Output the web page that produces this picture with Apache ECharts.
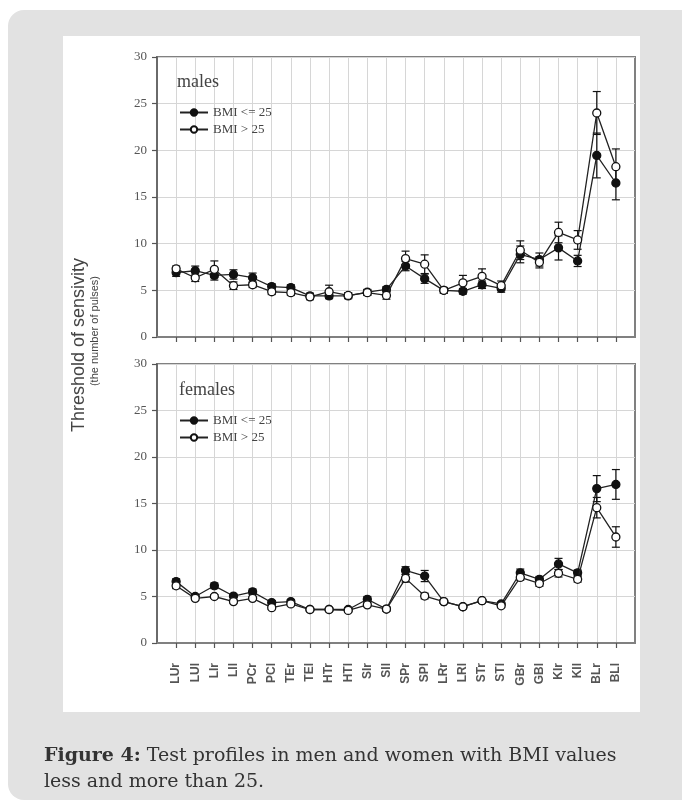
<!DOCTYPE html>
<html>
<head>
<meta charset="utf-8">
<script src="https://cdn.jsdelivr.net/npm/echarts@6/dist/echarts.min.js"></script>
<style>
  html, body { margin: 0; padding: 0; background: #ffffff; }
  #chart { width: 682px; height: 802px; }
</style>
</head>
<body>
<div id="chart"></div>
<script>
// Test points (right / left side of the body)
const categories = ['LUr','LUl','LIr','LIl','PCr','PCl','TEr','TEl','HTr','HTl','SIr','SIl',
                    'SPr','SPl','LRr','LRl','STr','STl','GBr','GBl','KIr','KIl','BLr','BLl'];

// Males: mean threshold and standard error
const maleLow     = [6.9, 7.1, 6.6, 6.7, 6.35, 5.4, 5.3, 4.4, 4.4, 4.4, 4.8, 5.1, 7.6, 6.25, 5.0, 4.9, 5.6, 5.2, 8.85, 8.3, 9.55, 8.15, 19.45, 16.5];
const maleLowErr  = [0.4, 0.5, 0.5, 0.5, 0.5, 0.3, 0.3, 0.3, 0.3, 0.3, 0.3, 0.3, 0.5, 0.5, 0.3, 0.3, 0.4, 0.4, 0.9, 0.7, 1.3, 0.6, 2.4, 1.8];
const maleHigh    = [7.3, 6.35, 7.25, 5.5, 5.6, 4.85, 4.75, 4.3, 4.85, 4.45, 4.75, 4.45, 8.4, 7.8, 5.0, 5.8, 6.5, 5.5, 9.3, 8.0, 11.2, 10.4, 24.0, 18.25];
const maleHighErr = [0.3, 0.4, 0.9, 0.4, 0.3, 0.3, 0.3, 0.3, 0.7, 0.3, 0.3, 0.4, 0.8, 1.0, 0.3, 0.8, 0.8, 0.5, 1.0, 0.6, 1.1, 1.0, 2.3, 1.9];

// Females: mean threshold and standard error
const femaleLow     = [6.6, 5.0, 6.15, 5.05, 5.5, 4.35, 4.45, 3.6, 3.6, 3.6, 4.7, 3.65, 7.8, 7.2, 4.45, 3.9, 4.55, 4.2, 7.55, 6.85, 8.5, 7.55, 16.6, 17.05];
const femaleLowErr  = [0.3, 0.2, 0.3, 0.2, 0.3, 0.2, 0.2, 0.2, 0.2, 0.2, 0.3, 0.2, 0.4, 0.6, 0.2, 0.2, 0.2, 0.2, 0.4, 0.3, 0.6, 0.3, 1.4, 1.6];
const femaleHigh    = [6.15, 4.8, 5.0, 4.45, 4.8, 3.8, 4.2, 3.6, 3.6, 3.5, 4.1, 3.65, 6.95, 5.05, 4.45, 3.9, 4.55, 4.0, 7.05, 6.4, 7.5, 6.85, 14.55, 11.4];
const femaleHighErr = [0.3, 0.2, 0.2, 0.2, 0.2, 0.2, 0.2, 0.2, 0.2, 0.2, 0.2, 0.2, 0.4, 0.3, 0.2, 0.2, 0.2, 0.2, 0.3, 0.3, 0.4, 0.3, 1.1, 1.1];

const seriesNames = ['BMI <= 25', 'BMI > 25'];
const panelTitles = ['males', 'females'];

const chart = echarts.init(document.getElementById('chart'), null, { renderer: 'canvas' });

const AXIS = '#808080';
const GRID = '#d6d6d6';
const INK = '#111111';
const SERIF = '"Liberation Serif", "Times New Roman", serif';
const CAPTION_SERIF = '"DejaVu Serif", Georgia, serif';
const SANS = '"Liberation Sans", Arial, sans-serif';

function points(vals) {
  return vals.map((v, i) => [i + 1, v]);
}
function errPoints(vals, errs) {
  return vals.map((v, i) => [i + 1, v - errs[i], v + errs[i]]);
}

// vertical error bar with caps
function renderErr(params, api) {
  const x = api.value(0);
  const lo = api.coord([x, api.value(1)]);
  const hi = api.coord([x, api.value(2)]);
  const cap = 4;
  const style = { stroke: INK, lineWidth: 1.2 };
  return {
    type: 'group',
    children: [
      { type: 'line', shape: { x1: lo[0], y1: lo[1], x2: hi[0], y2: hi[1] }, style },
      { type: 'line', shape: { x1: hi[0] - cap, y1: hi[1], x2: hi[0] + cap, y2: hi[1] }, style },
      { type: 'line', shape: { x1: lo[0] - cap, y1: lo[1], x2: lo[0] + cap, y2: lo[1] }, style }
    ]
  };
}

const grids = [
  { left: 157, top: 57, width: 478, height: 280 },
  { left: 157, top: 364, width: 478, height: 279 }
];

function xAxisFor(idx) {
  return {
    type: 'value', gridIndex: idx, min: 0, max: 25, interval: 1,
    axisLine: { show: true, lineStyle: { color: AXIS, width: 2 } },
    axisTick: { show: true, length: 5, lineStyle: { color: '#555', width: 1.2 },
      customValues: categories.map((c, i) => i + 1) },
    splitLine: { show: true, lineStyle: { color: GRID, width: 1 } },
    axisLabel: {
      show: idx === 1,
      rotate: 90,
      interval: 0,
      margin: 20,
      color: '#555',
      fontFamily: SANS,
      fontWeight: 'bold',
      fontSize: 12,
      formatter: v => (v >= 1 && v <= categories.length) ? categories[v - 1] : ''
    }
  };
}

function yAxisFor(idx) {
  return {
    type: 'value', gridIndex: idx, min: 0, max: 30, interval: 5,
    axisLine: { show: true, lineStyle: { color: '#6a6a6a', width: 2 } },
    axisTick: { show: true, length: 5, lineStyle: { color: '#555', width: 1.2 } },
    splitLine: { show: true, lineStyle: { color: GRID, width: 1 } },
    axisLabel: { color: '#555', fontFamily: SERIF, fontSize: 13, margin: 10 }
  };
}

function lineSeries(name, idx, vals, filled) {
  return {
    name, type: 'line', xAxisIndex: idx, yAxisIndex: idx,
    data: points(vals),
    symbol: 'circle', symbolSize: 8,
    lineStyle: { color: '#222', width: 1.3 },
    itemStyle: { color: filled ? INK : '#ffffff', borderColor: INK, borderWidth: 1.3 },
    z: filled ? 4 : 5,
    animation: false
  };
}

function errSeries(idx, vals, errs) {
  return {
    type: 'custom', xAxisIndex: idx, yAxisIndex: idx,
    renderItem: renderErr,
    data: errPoints(vals, errs),
    encode: { x: 0, y: [1, 2] },
    z: 3, silent: true, animation: false
  };
}

const legendCommon = {
  orient: 'vertical',
  itemWidth: 28, itemHeight: 8, itemGap: 4,
  textStyle: { fontFamily: SERIF, fontSize: 13, color: '#444' },
  data: seriesNames.map(n => ({ name: n }))
};

const option = {
  backgroundColor: '#ffffff',
  animation: false,
  graphic: [
    { type: 'rect', left: 8, top: 10, shape: { width: 700, height: 790, r: 16 },
      style: { fill: '#e2e2e2' }, z: -10 },
    { type: 'rect', left: 63, top: 36, shape: { width: 577, height: 676 },
      style: { fill: '#ffffff' }, z: -9 },
    { type: 'text', left: 70, top: 258, rotation: Math.PI / 2, z: 10,
      style: { text: 'Threshold of sensivity', font: '18px ' + SANS, fill: '#444' } },
    { type: 'text', left: 89, top: 276, rotation: Math.PI / 2, z: 10,
      style: { text: '(the number of pulses)', font: '11px ' + SANS, fill: '#444' } },
    { type: 'text', left: 44, top: 743, z: 10,
      style: {
        text: '{b|Figure 4:} Test profiles in men and women with BMI values\nless and more than 25.',
        font: '19px ' + CAPTION_SERIF, fill: '#333', lineHeight: 26,
        rich: { b: { fontWeight: 'bold', fontFamily: CAPTION_SERIF, fontSize: 19, fill: '#333' } }
      } }
  ],
  title: [
    { text: panelTitles[0], left: 172, top: 68,
      textStyle: { fontFamily: SERIF, fontSize: 18, fontWeight: 'normal', color: '#444' } },
    { text: panelTitles[1], left: 174, top: 376,
      textStyle: { fontFamily: SERIF, fontSize: 18, fontWeight: 'normal', color: '#444' } }
  ],
  legend: [
    Object.assign({ left: 174, top: 101 }, legendCommon),
    Object.assign({ left: 174, top: 409 }, legendCommon)
  ],
  grid: grids.map(g => Object.assign({ show: true, borderColor: AXIS, borderWidth: 2, backgroundColor: 'transparent' }, g)),
  xAxis: [xAxisFor(0), xAxisFor(1)],
  yAxis: [yAxisFor(0), yAxisFor(1)],
  series: [
    errSeries(0, maleLow, maleLowErr),
    errSeries(0, maleHigh, maleHighErr),
    lineSeries(seriesNames[0], 0, maleLow, true),
    lineSeries(seriesNames[1], 0, maleHigh, false),
    errSeries(1, femaleLow, femaleLowErr),
    errSeries(1, femaleHigh, femaleHighErr),
    lineSeries(seriesNames[0], 1, femaleLow, true),
    lineSeries(seriesNames[1], 1, femaleHigh, false)
  ]
};

chart.setOption(option);
</script>
</body>
</html>
